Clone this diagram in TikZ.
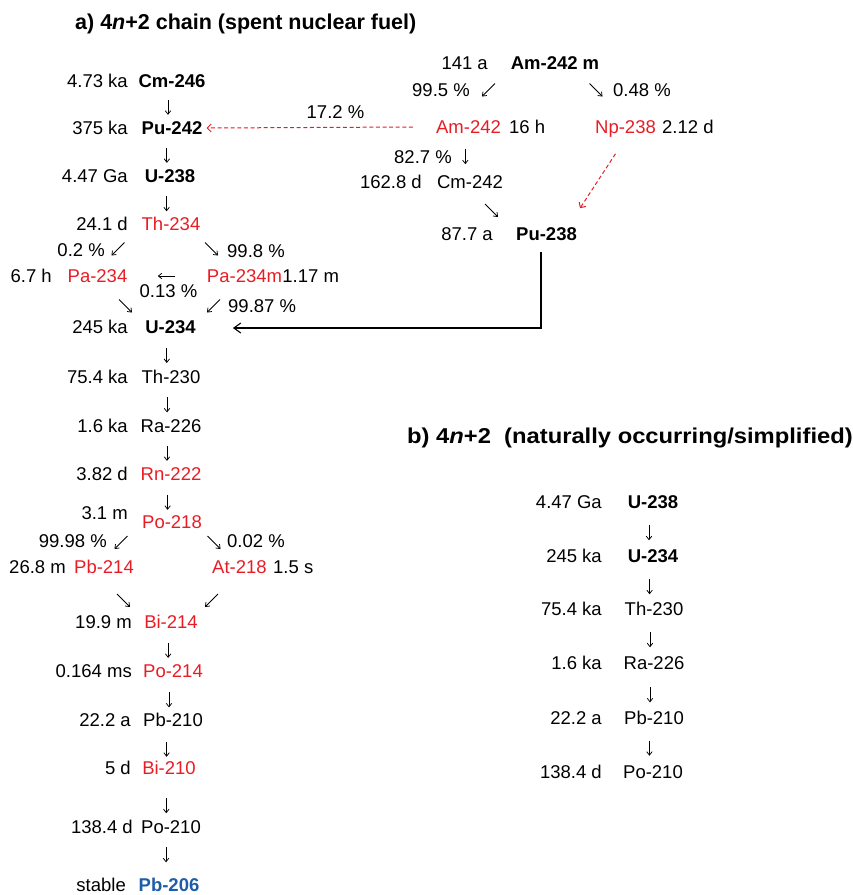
\documentclass[tikz,border=0pt]{standalone}
\usepackage{fontspec}
\setmainfont{Liberation Sans}
\usepackage{xcolor}
\usepackage{tikz}
\usetikzlibrary{arrows.meta,calc}
\definecolor{nred}{RGB}{232,28,36}
\definecolor{nblue}{RGB}{30,94,168}
\tikzset{
  txt/.style={inner sep=0pt,text height=13.2pt,text depth=0pt,font=\fontsize{18.5}{22}\selectfont},
  nuc/.style={txt},
  hl/.style={txt,anchor=east},
  hr/.style={txt,anchor=west},
  rd/.style={text=nred},
  bd/.style={font=\fontsize{18.5}{22}\selectfont\bfseries},
  ttl/.style={inner sep=0pt,anchor=west,text height=15pt,text depth=0pt,font=\fontsize{21.5}{25}\selectfont\bfseries},
  dk/.style={line width=0.75pt,-{Straight Barb[length=3.5pt,width=5.5pt]}},
  fd/.style={line width=1.1pt,-{Straight Barb[length=7pt,width=10pt]}},
  rdash/.style={nred,line width=1pt,dash pattern=on 4pt off 2.6pt,-{Straight Barb[length=4pt,width=8pt]}}
}
\newcommand{\dn}[3][0.58]{\draw[dk] ($(#2)!#1!(#3)+(-4,-7.5)$) -- ($(#2)!#1!(#3)+(-4,7.5)$);}
\newcommand{\sw}[2]{\draw[dk] (#1+6.5,#2-6.5) -- (#1-6.5,#2+6.5);}
\newcommand{\se}[2]{\draw[dk] (#1-6.5,#2-6.5) -- (#1+6.5,#2+6.5);}

\begin{document}
\begin{tikzpicture}[x=1pt,y=-1pt]
\useasboundingbox (0,0) rectangle (853,895);
% a) spent fuel chain
\node[ttl] (ta) at (75,22) {a)~4\textit{n}+2 chain (spent nuclear fuel)};
\node[nuc,bd] (cm246) at (172,81) {Cm-246};   \node[hl] (hcm246) at (128,81) {4.73 ka};
\node[nuc,bd] (pu242) at (172,128) {Pu-242};  \node[hl] (hpu242) at (128,128) {375 ka};
\node[nuc,bd] (u238) at (170,176) {U-238};    \node[hl] (hu238) at (128,176) {4.47 Ga};
\node[nuc,rd] (th234) at (171,224) {Th-234};  \node[hl] (hth234) at (128,224) {24.1 d};
\node[nuc,rd] (pa234) at (97.5,276) {Pa-234}; \node[hl] (hpa234) at (52,276) {6.7 h};
\node[nuc,rd] (pa234m) at (244.5,276) {Pa-234m}; \node[hr] (hpa234m) at (pa234m.east) {1.17 m};
\node[nuc,bd] (u234) at (170.5,327) {U-234};  \node[hl] (hu234) at (128,327) {245 ka};
\node[nuc] (th230) at (171,377) {Th-230};     \node[hl] (hth230) at (128,377) {75.4 ka};
\node[nuc] (ra226) at (171,426) {Ra-226};     \node[hl] (hra226) at (128,426) {1.6 ka};
\node[nuc,rd] (rn222) at (171,474) {Rn-222};  \node[hl] (hrn222) at (128,474) {3.82 d};
\node[nuc,rd] (po218) at (172,522) {Po-218};  \node[hl] (hpo218) at (128,513) {3.1 m};
\node[nuc,rd] (pb214) at (104,567) {Pb-214};  \node[hl] (hpb214) at (66,567) {26.8 m};
\node[nuc,rd] (at218) at (239.5,567) {At-218}; \node[hr] (hat218) at (273,567) {1.5 s};
\node[nuc,rd] (bi214) at (171,622) {Bi-214};  \node[hl] (hbi214) at (132,622) {19.9 m};
\node[nuc,rd] (po214) at (173,671) {Po-214};  \node[hl] (hpo214) at (132,671) {0.164 ms};
\node[nuc] (pb210) at (173,720) {Pb-210};     \node[hl] (hpb210) at (131,720) {22.2 a};
\node[nuc,rd] (bi210) at (169,768) {Bi-210};  \node[hl] (hbi210) at (131,768) {5 d};
\node[nuc] (po210) at (171,827) {Po-210};     \node[hl] (hpo210) at (133,827) {138.4 d};
\node[nuc,bd,text=nblue] (pb206) at (169,885) {Pb-206}; \node[hl] (hpb206) at (126,885) {stable};
% branching ratios
\node[hl] (p02) at (105,250) {0.2 \%};
\node[hr] (p998) at (227,251) {99.8 \%};
\node[nuc] (p013) at (168.5,291) {0.13 \%};
\node[hr] (p9987) at (228,306) {99.87 \%};
\node[hl] (p9998) at (107,541) {99.98 \%};
\node[hr] (p002) at (227,541) {0.02 \%};
\node[nuc] (p172) at (335.5,112) {17.2 \%};
% americium branch
\node[nuc,bd] (am242m) at (555,63) {Am-242 m}; \node[hl] (ham242m) at (488,63) {141 a};
\node[hl] (p995) at (470,90) {99.5 \%};
\node[hr] (p048) at (613,90) {0.48 \%};
\node[nuc,rd] (am242) at (468.5,127) {Am-242}; \node[hr] (ham242) at (509,127) {16 h};
\node[nuc,rd] (np238) at (625.5,127) {Np-238}; \node[hr] (hnp238) at (662,127) {2.12 d};
\node[hl] (p827) at (452,157) {82.7 \%};
\node[nuc] (cm242) at (470,182) {Cm-242};      \node[hl] (hcm242) at (422,182) {162.8 d};
\node[nuc,bd] (pu238) at (546.5,234) {Pu-238}; \node[hl] (hpu238) at (493,234) {87.7 a};
% b) natural chain
\node[ttl] (tb) at (407,436) {\scalebox{1.105}[1]{b)~4\textit{n}+2~~(naturally occurring/simplified)}};
\node[nuc,bd] (u238b) at (653,502) {U-238};  \node[hl] (hu238b) at (602,502) {4.47 Ga};
\node[nuc,bd] (u234b) at (653,556) {U-234};  \node[hl] (hu234b) at (602,556) {245 ka};
\node[nuc] (th230b) at (654,609) {Th-230};   \node[hl] (hth230b) at (602,609) {75.4 ka};
\node[nuc] (ra226b) at (654,663) {Ra-226};   \node[hl] (hra226b) at (602,663) {1.6 ka};
\node[nuc] (pb210b) at (654,718) {Pb-210};   \node[hl] (hpb210b) at (602,718) {22.2 a};
\node[nuc] (po210b) at (653,772) {Po-210};   \node[hl] (hpo210b) at (602,772) {138.4 d};
% decay arrows
\dn[0.56]{cm246}{pu242} \dn[0.57]{pu242}{u238} \dn{u238}{th234}
\dn[0.57]{u234}{th230} \dn[0.57]{th230}{ra226} \dn[0.57]{ra226}{rn222} \dn[0.59]{rn222}{po218}
\dn{bi214}{po214} \dn[0.59]{po214}{pb210} \dn[0.61]{pb210}{bi210} \dn[0.64]{bi210}{po210} \dn[0.48]{po210}{pb206}
\dn[0.54]{am242}{cm242}
\dn[0.57]{u238b}{u234b} \dn{u234b}{th230b} \dn[0.57]{th230b}{ra226b} \dn{ra226b}{pb210b} \dn[0.56]{pb210b}{po210b}
\draw[dk] ($(pa234m)!0.47!(pa234)$) -- ($(pa234m)!0.59!(pa234)$);
\sw{488.5}{90} \se{596}{90} \se{491.5}{210.5}
\sw{118}{249} \se{211.5}{249} \se{125.5}{306} \sw{213.5}{306}
\sw{121}{542.5} \se{214}{542.5} \se{123.5}{600.5} \sw{211.5}{600.5}
% feeds into the main chain
\draw[rdash] ([xshift=-23pt]am242.west) -- ([xshift=4pt]pu242.east);
\draw[rdash] ([xshift=-10pt,yshift=-20pt]np238.south) -- ([xshift=33.5pt,yshift=19pt]pu238.north);
\draw[fd] ([xshift=-5.5pt,yshift=-11pt]pu238.south) |- ([xshift=37pt,yshift=-1pt]u234.east);
\end{tikzpicture}
\end{document}
